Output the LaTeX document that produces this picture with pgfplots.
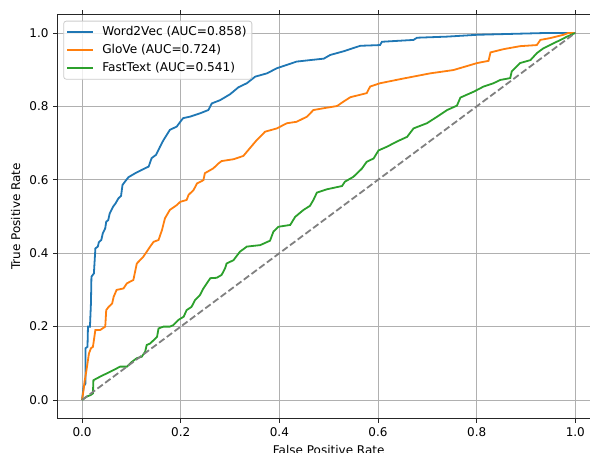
\documentclass[border=0pt]{standalone}
\usepackage{fontspec}
\setmainfont{DejaVu Sans}
\usepackage{pgfplots}
\pgfplotsset{compat=1.18}
\definecolor{tabblue}{HTML}{1F77B4}
\definecolor{taborange}{HTML}{FF7F0E}
\definecolor{tabgreen}{HTML}{2CA02C}
\definecolor{gridgray}{HTML}{B0B0B0}
\definecolor{legedge}{HTML}{CCCCCC}
\begin{document}
\begin{tikzpicture}[font=\fontsize{9}{10.8}\selectfont]
\useasboundingbox (0,0) rectangle (442.5pt,339.75pt);
\clip (0,0) rectangle (442.5pt,339.75pt);
\begin{pgfinterruptboundingbox}
\begin{axis}[
  at={(43.05pt,25.95pt)}, anchor=south west,
  scale only axis, width=406.95pt, height=302.85pt,
  xmin=-0.05, xmax=1.05, ymin=-0.05, ymax=1.05,
  xtick={0,0.2,0.4,0.6,0.8,1.0},
  ytick={0,0.2,0.4,0.6,0.8,1.0},
  /pgf/number format/assume math mode=true,
  xticklabel style={/pgf/number format/.cd, fixed, fixed zerofill, precision=1},
  yticklabel style={/pgf/number format/.cd, fixed, fixed zerofill, precision=1},
  ticklabel style={font=\fontsize{9}{10.8}\selectfont},
  label style={font=\fontsize{9}{10.8}\selectfont},
  grid=major,
  major grid style={draw=gridgray, line width=0.6pt},
  axis line style={draw=black!85, line width=0.6pt},
  tick style={draw=black!85, line width=0.6pt},
  tick align=outside, major tick length=3.15pt,
  xlabel={False Positive Rate},
  ylabel={True Positive Rate},
  legend cell align=left,
  legend style={at={(0,1)}, anchor=north west, xshift=4.4pt, yshift=-4.6pt,
    draw=legedge, line width=0.6pt, rounded corners=2pt, fill=white, fill opacity=0.8, text opacity=1,
    font=\fontsize{9.1}{10.9}\selectfont, inner xsep=2pt, inner ysep=2pt, row sep=0.6pt,
    nodes={inner sep=2pt, text height=6.8pt, text depth=2pt},
    /tikz/every odd column/.append style={column sep=4.3pt}},
  legend image code/.code={\draw[#1] (0pt,0pt) -- (19.3pt,0pt);},
]
\addplot[tabblue, line width=1.35pt] coordinates {
(0,0) (0.003,0.036) (0.007,0.045) (0.007,0.141) (0.011,0.145) (0.012,0.2) (0.016,0.2)
(0.018,0.263) (0.019,0.336) (0.024,0.345) (0.027,0.413) (0.032,0.418) (0.034,0.43)
(0.039,0.436) (0.042,0.454) (0.047,0.468) (0.049,0.486) (0.053,0.49) (0.056,0.508)
(0.063,0.527) (0.068,0.536) (0.074,0.55) (0.079,0.556) (0.082,0.586) (0.087,0.595)
(0.094,0.607) (0.108,0.618) (0.121,0.627) (0.135,0.636) (0.141,0.659) (0.15,0.668)
(0.158,0.690) (0.165,0.708) (0.178,0.736) (0.192,0.745) (0.202,0.763) (0.205,0.768)
(0.219,0.772) (0.239,0.781) (0.256,0.790) (0.263,0.808) (0.280,0.817) (0.300,0.833)
(0.317,0.852) (0.334,0.863) (0.351,0.881) (0.375,0.890) (0.395,0.904) (0.415,0.913)
(0.435,0.922) (0.462,0.926) (0.49,0.930) (0.503,0.940) (0.530,0.950) (0.564,0.965)
(0.604,0.967) (0.608,0.976) (0.672,0.981) (0.679,0.987) (0.740,0.990) (0.801,0.995)
(0.943,1.0) (1,1)
};
\addlegendentry{Word2Vec (AUC=0.858)}
\addplot[taborange, line width=1.35pt] coordinates {
(0,0) (0.003,0.027) (0.005,0.05) (0.008,0.073) (0.011,0.1) (0.014,0.127) (0.018,0.141)
(0.022,0.145) (0.024,0.163) (0.027,0.191) (0.037,0.191) (0.047,0.2) (0.049,0.245)
(0.054,0.254) (0.061,0.263) (0.064,0.281) (0.070,0.3) (0.084,0.304) (0.091,0.318)
(0.104,0.327) (0.111,0.372) (0.124,0.390) (0.138,0.418) (0.145,0.431) (0.155,0.436)
(0.162,0.463) (0.168,0.495) (0.178,0.518) (0.192,0.531) (0.199,0.540) (0.212,0.545)
(0.216,0.559) (0.226,0.572) (0.233,0.590) (0.246,0.599) (0.249,0.618) (0.266,0.631)
(0.277,0.645) (0.283,0.651) (0.307,0.656) (0.327,0.665) (0.337,0.681) (0.354,0.708)
(0.371,0.731) (0.395,0.740) (0.415,0.754) (0.435,0.758) (0.456,0.772) (0.469,0.790)
(0.49,0.795) (0.517,0.801) (0.530,0.813) (0.544,0.825) (0.577,0.836) (0.584,0.854)
(0.604,0.863) (0.652,0.876) (0.706,0.890) (0.753,0.899) (0.801,0.918) (0.824,0.924)
(0.828,0.947) (0.855,0.956) (0.888,0.964) (0.922,0.967) (0.929,0.981) (0.949,0.986)
(0.976,0.995) (0.986,1.0) (1,1)
};
\addlegendentry{GloVe (AUC=0.724)}
\addplot[tabgreen, line width=1.35pt] coordinates {
(0,0) (0.009,0.009) (0.018,0.014) (0.022,0.018) (0.023,0.054) (0.037,0.064) (0.043,0.068)
(0.057,0.077) (0.070,0.086) (0.077,0.091) (0.091,0.091) (0.101,0.104) (0.111,0.114)
(0.121,0.118) (0.128,0.132) (0.131,0.150) (0.138,0.154) (0.145,0.163) (0.152,0.172)
(0.155,0.195) (0.165,0.2) (0.178,0.2) (0.185,0.204) (0.195,0.218) (0.206,0.227)
(0.212,0.245) (0.222,0.254) (0.229,0.272) (0.239,0.286) (0.246,0.304) (0.253,0.318)
(0.260,0.332) (0.273,0.333) (0.283,0.341) (0.290,0.359) (0.293,0.372) (0.307,0.381)
(0.320,0.404) (0.334,0.418) (0.361,0.422) (0.381,0.434) (0.388,0.459) (0.398,0.472)
(0.422,0.477) (0.432,0.499) (0.449,0.518) (0.462,0.529) (0.469,0.545) (0.476,0.565)
(0.496,0.574) (0.527,0.583) (0.533,0.595) (0.550,0.608) (0.567,0.630) (0.577,0.649)
(0.591,0.658) (0.601,0.680) (0.618,0.690) (0.638,0.704) (0.659,0.717) (0.672,0.740)
(0.699,0.754) (0.720,0.772) (0.740,0.790) (0.760,0.802) (0.767,0.824) (0.794,0.840)
(0.814,0.854) (0.834,0.863) (0.848,0.872) (0.868,0.877) (0.871,0.895) (0.888,0.918)
(0.909,0.926) (0.922,0.945) (0.935,0.958) (0.956,0.972) (0.970,0.981) (0.983,0.990) (1,1)
};
\addlegendentry{FastText (AUC=0.541)}
\addplot[gray, line width=1.35pt, dash pattern=on 5pt off 2.2pt, forget plot] coordinates {(0,0) (1,1)};
\end{axis}
\end{pgfinterruptboundingbox}
\end{tikzpicture}
\end{document}
